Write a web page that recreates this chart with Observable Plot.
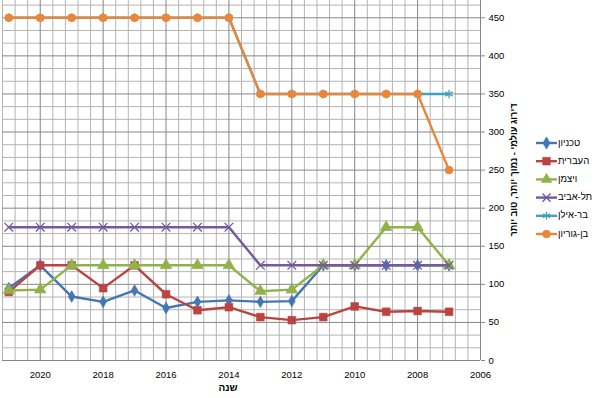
<!DOCTYPE html>
<html><head><meta charset="utf-8">
<script src="https://cdn.jsdelivr.net/npm/d3@7"></script>
<script src="https://cdn.jsdelivr.net/npm/@observablehq/plot@0.6"></script>
<style>body{margin:0;background:#fff;}</style>
</head><body><div id="chart"></div>
<script>
const years = [2021,2020,2019,2018,2017,2016,2015,2014,2013,2012,2011,2010,2009,2008,2007];
const technion  = [95,125,84,77,92,69,77,79,77,78,125,125,125,125,125];
const hebrew    = [90,125,125,95,125,87,66,70,57,53,57,71,64,65,64];
const weizmann  = [92,93,125,125,125,125,125,125,91,93,125,125,175,175,125];
const telAviv   = [175,175,175,175,175,175,175,175,125,125,125,125,125,125,125];
const barIlan   = [450,450,450,450,450,450,450,450,350,350,350,350,350,350,350];
const benGurion = [450,450,450,450,450,450,450,450,350,350,350,350,350,350,250];
const seriesNames = ["טכניון","העברית","ויצמן","תל-אביב","בר-אילן","בן-גוריון"];
const xTickLabels = [2020,2018,2016,2014,2012,2010,2008,2006];
const yTickLabels = [0,50,100,150,200,250,300,350,400,450];
const xTitle = "שנה";
const yTitle = "דירוג עולמי - נמוך יותר, טוב יותר";

const seriesValues = [technion, hebrew, weizmann, telAviv, barIlan, benGurion];
const FONT = "'Liberation Sans', Arial, sans-serif";
const looks = [
  {color:"#4575B3", symbol:"diamond", fill:true, r:3.6, d3s:d3.symbolDiamond, size:45},
  {color:"#B94441", symbol:"square", fill:true, r:4.4, d3s:d3.symbolSquare, size:60},
  {color:"#91B24B", symbol:"triangle", fill:true, r:4.4, d3s:d3.symbolTriangle, size:50},
  {color:"#75599B", symbol:"times", fill:false, r:4, d3s:d3.symbolTimes, size:45},
  {color:"#40A2BF", symbol:"asterisk", fill:false, r:4, d3s:d3.symbolAsterisk, size:45},
  {color:"#E8873C", symbol:"circle", fill:true, r:4, d3s:d3.symbolCircle, size:50}
];

const minorX = d3.range(0, 39).map(i => +(2006 + i * 0.4).toFixed(2));
const minorY = d3.range(0, 29).map(i => i * 50 / 3);

const marks = [
  Plot.ruleX(minorX.filter((d, i) => i % 5 !== 0), {x: d => d, stroke: "#b4b4b4", strokeWidth: 1, strokeOpacity: 1}),
  Plot.ruleY(minorY.filter((d, i) => i % 3 !== 0), {y: d => d, stroke: "#b4b4b4", strokeWidth: 1, strokeOpacity: 1}),
  Plot.ruleX(minorX.filter((d, i) => i % 5 === 0), {x: d => d, stroke: "#868686", strokeWidth: 1, strokeOpacity: 1}),
  Plot.ruleY(minorY.filter((d, i) => i % 3 === 0), {y: d => d, stroke: "#868686", strokeWidth: 1, strokeOpacity: 1}),
  Plot.ruleX([2006], {stroke: "#868686", strokeWidth: 1})
];

seriesValues.forEach((vals, k) => {
  const rows = years.map((y, i) => ({year: y, value: vals[i]}));
  const L = looks[k];
  marks.push(Plot.line(rows, {x: "year", y: "value", stroke: L.color, strokeWidth: 2.4}));
  marks.push(Plot.dot(rows, {x: "year", y: "value", symbol: () => L.symbol, r: L.r,
    fill: L.fill ? L.color : "none", stroke: L.color, strokeWidth: L.fill ? 0.5 : 1.3}));
});

marks.push(Plot.axisY(yTickLabels, {anchor: "right", tickSize: 4, tickPadding: 4, stroke: "#868686",
  textAnchor: "start", fontSize: 9.5, fill: "#000", tickFormat: d => String(d)}));
marks.push(Plot.axisX(xTickLabels, {anchor: "bottom", tickSize: 0, tickPadding: 11,
  fontSize: 9.5, fill: "#000", tickFormat: d => String(d)}));

const chart = Plot.plot({
  width: 596, height: 398,
  marginLeft: 2, marginRight: 116, marginTop: 0, marginBottom: 38,
  style: {fontFamily: FONT, fontSize: "9.5px", background: "#fff", overflow: "visible"},
  x: {domain: [2021.2, 2006], label: null},
  y: {domain: [0, 472.7], label: null},
  marks
});
document.getElementById("chart").appendChild(chart);

const svg = d3.select(chart);
svg.append("text").attr("x", 228).attr("y", 391)
  .attr("text-anchor", "middle").attr("font-size", 10).attr("font-weight", "bold")
  .attr("font-family", FONT).text(xTitle);
svg.append("text").attr("transform", "translate(515,170) rotate(-90)")
  .attr("text-anchor", "middle").attr("dominant-baseline", "middle")
  .attr("font-size", 9.2).attr("font-weight", "bold")
  .attr("font-family", FONT).text(yTitle);

const lg = svg.append("g");
seriesNames.forEach((name, k) => {
  const L = looks[k];
  const y = 143 + k * 18.2;
  lg.append("line").attr("x1", 536).attr("x2", 557).attr("y1", y).attr("y2", y)
    .attr("stroke", L.color).attr("stroke-width", 2.4);
  lg.append("path").attr("d", d3.symbol(L.d3s, L.size)())
    .attr("transform", `translate(546.5,${y})`)
    .attr("fill", L.fill ? L.color : "none").attr("stroke", L.color).attr("stroke-width", L.fill ? 0.5 : 1.3);
  const t = lg.append("text").attr("x", 572).attr("y", y).attr("dominant-baseline", "middle")
    .attr("text-anchor", "middle")
    .attr("font-size", 9.5).attr("font-family", FONT).text(name);
  const w = t.node().getComputedTextLength();
  t.attr("x", 558 + w / 2);
});
</script>
</body></html>
